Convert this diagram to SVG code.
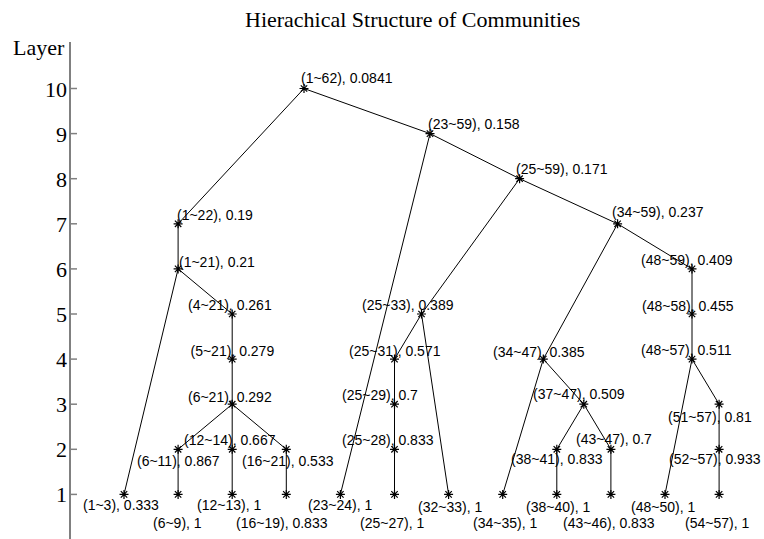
<svg xmlns="http://www.w3.org/2000/svg" xmlns:xlink="http://www.w3.org/1999/xlink" width="764" height="539" viewBox="0 0 764 539">
<style>
.lbl{font-family:"Liberation Sans",Arial,sans-serif;font-size:14px;fill:#000}
.ser{font-family:"Liberation Serif","Times New Roman",serif;font-size:22px;fill:#000}
.edge{stroke:#000;stroke-width:1;fill:none}
.tick{stroke:#808080;stroke-width:1.5}
</style>
<defs>
<path id="star" d="M-4.5,0H4.5M0,-4.5V4.5M-3.2,-3.2L3.2,3.2M-3.2,3.2L3.2,-3.2" stroke="#000" stroke-width="1.2" fill="none"/>
</defs>
<rect width="764" height="539" fill="#fff"/>
<text class="ser" x="245" y="27">Hierachical Structure of Communities</text>
<g id="axis">
<line x1="70" y1="42" x2="70" y2="539" stroke="#808080" stroke-width="2"/>
<text class="ser" x="13" y="55">Layer</text>
<g class="tick">
<line x1="70" y1="88.5" x2="77" y2="88.5"/><line x1="70" y1="133.6" x2="77" y2="133.6"/><line x1="70" y1="178.7" x2="77" y2="178.7"/><line x1="70" y1="223.8" x2="77" y2="223.8"/><line x1="70" y1="268.9" x2="77" y2="268.9"/><line x1="70" y1="314" x2="77" y2="314"/><line x1="70" y1="359.1" x2="77" y2="359.1"/><line x1="70" y1="404.2" x2="77" y2="404.2"/><line x1="70" y1="449.3" x2="77" y2="449.3"/><line x1="70" y1="494.4" x2="77" y2="494.4"/>
</g>
<g class="ser" text-anchor="end">
<text x="67" y="96.5">10</text><text x="67" y="141.6">9</text><text x="67" y="186.7">8</text><text x="67" y="231.8">7</text><text x="67" y="276.9">6</text><text x="67" y="322">5</text><text x="67" y="367.1">4</text><text x="67" y="412.2">3</text><text x="67" y="457.3">2</text><text x="67" y="502.4">1</text>
</g>
</g>
<g id="connectors" class="edge">
<line x1="304" y1="88.5" x2="178.1" y2="223.8"/>
<line x1="304" y1="88.5" x2="430" y2="133.6"/>
<line x1="178.1" y1="223.8" x2="178.1" y2="268.9"/>
<line x1="178.1" y1="268.9" x2="124" y2="494.4"/>
<line x1="178.1" y1="268.9" x2="232.2" y2="314"/>
<line x1="232.2" y1="314" x2="232.2" y2="404.2"/>
<line x1="232.2" y1="404.2" x2="178.1" y2="449.3"/>
<line x1="232.2" y1="404.2" x2="232.2" y2="494.4"/>
<line x1="232.2" y1="404.2" x2="286.3" y2="449.3"/>
<line x1="178.1" y1="449.3" x2="178.1" y2="494.4"/>
<line x1="286.3" y1="449.3" x2="286.3" y2="494.4"/>
<line x1="430" y1="133.6" x2="340.4" y2="494.4"/>
<line x1="430" y1="133.6" x2="519.6" y2="178.7"/>
<line x1="519.6" y1="178.7" x2="421.5" y2="314"/>
<line x1="519.6" y1="178.7" x2="617.6" y2="223.8"/>
<line x1="421.5" y1="314" x2="394.5" y2="359.1"/>
<line x1="421.5" y1="314" x2="448.6" y2="494.4"/>
<line x1="394.5" y1="359.1" x2="394.5" y2="494.4"/>
<line x1="617.6" y1="223.8" x2="543.3" y2="359.1"/>
<line x1="617.6" y1="223.8" x2="692" y2="268.9"/>
<line x1="543.3" y1="359.1" x2="502.7" y2="494.4"/>
<line x1="543.3" y1="359.1" x2="583.8" y2="404.2"/>
<line x1="583.8" y1="404.2" x2="556.8" y2="449.3"/>
<line x1="583.8" y1="404.2" x2="610.9" y2="449.3"/>
<line x1="556.8" y1="449.3" x2="556.8" y2="494.4"/>
<line x1="610.9" y1="449.3" x2="610.9" y2="494.4"/>
<line x1="692" y1="268.9" x2="692" y2="359.1"/>
<line x1="692" y1="359.1" x2="665" y2="494.4"/>
<line x1="692" y1="359.1" x2="719.1" y2="404.2"/>
<line x1="719.1" y1="404.2" x2="719.1" y2="494.4"/>
</g>
<g id="n1-62"><use href="#star" x="304" y="88.5"/><text class="lbl" x="301" y="83">(1~62), 0.0841</text></g>
<g id="n23-59"><use href="#star" x="430" y="133.6"/><text class="lbl" x="428" y="129">(23~59), 0.158</text></g>
<g id="n25-59"><use href="#star" x="519.6" y="178.7"/><text class="lbl" x="516" y="173.5">(25~59), 0.171</text></g>
<g id="n34-59"><use href="#star" x="617.6" y="223.8"/><text class="lbl" x="612" y="217">(34~59), 0.237</text></g>
<g id="n1-22"><use href="#star" x="178.1" y="223.8"/><text class="lbl" x="177" y="220">(1~22), 0.19</text></g>
<g id="n1-21"><use href="#star" x="178.1" y="268.9"/><text class="lbl" x="179" y="266.5">(1~21), 0.21</text></g>
<g id="n48-59"><use href="#star" x="692" y="268.9"/><text class="lbl" x="641" y="265">(48~59), 0.409</text></g>
<g id="n4-21"><use href="#star" x="232.2" y="314"/><text class="lbl" x="188" y="310">(4~21), 0.261</text></g>
<g id="n25-33"><use href="#star" x="421.5" y="314"/><text class="lbl" x="362" y="310">(25~33), 0.389</text></g>
<g id="n48-58"><use href="#star" x="692" y="314"/><text class="lbl" x="642" y="311">(48~58), 0.455</text></g>
<g id="n5-21"><use href="#star" x="232.2" y="359.1"/><text class="lbl" x="190.5" y="356">(5~21), 0.279</text></g>
<g id="n25-31"><use href="#star" x="394.5" y="359.1"/><text class="lbl" x="349" y="356">(25~31), 0.571</text></g>
<g id="n34-47"><use href="#star" x="543.3" y="359.1"/><text class="lbl" x="493" y="356.5">(34~47), 0.385</text></g>
<g id="n48-57"><use href="#star" x="692" y="359.1"/><text class="lbl" x="641" y="354.5">(48~57), 0.511</text></g>
<g id="n6-21"><use href="#star" x="232.2" y="404.2"/><text class="lbl" x="188" y="401.5">(6~21), 0.292</text></g>
<g id="n25-29"><use href="#star" x="394.5" y="404.2"/><text class="lbl" x="342" y="400">(25~29), 0.7</text></g>
<g id="n37-47"><use href="#star" x="583.8" y="404.2"/><text class="lbl" x="533" y="399">(37~47), 0.509</text></g>
<g id="n51-57"><use href="#star" x="719.1" y="404.2"/><text class="lbl" x="668" y="421.5">(51~57), 0.81</text></g>
<g id="n12-14"><use href="#star" x="232.2" y="449.3"/><text class="lbl" x="184" y="445">(12~14), 0.667</text></g>
<g id="n25-28"><use href="#star" x="394.5" y="449.3"/><text class="lbl" x="342" y="444.5">(25~28), 0.833</text></g>
<g id="n43-47"><use href="#star" x="610.9" y="449.3"/><text class="lbl" x="576" y="443.5">(43~47), 0.7</text></g>
<g id="n6-11"><use href="#star" x="178.1" y="449.3"/><text class="lbl" x="137" y="466">(6~11), 0.867</text></g>
<g id="n16-21"><use href="#star" x="286.3" y="449.3"/><text class="lbl" x="242" y="466">(16~21), 0.533</text></g>
<g id="n38-41"><use href="#star" x="556.8" y="449.3"/><text class="lbl" x="511" y="463.5">(38~41), 0.833</text></g>
<g id="n52-57"><use href="#star" x="719.1" y="449.3"/><text class="lbl" x="669" y="463.5">(52~57), 0.933</text></g>
<g id="n1-3"><use href="#star" x="124" y="494.4"/><text class="lbl" x="83" y="510">(1~3), 0.333</text></g>
<g id="n12-13"><use href="#star" x="232.2" y="494.4"/><text class="lbl" x="197" y="510">(12~13), 1</text></g>
<g id="n23-24"><use href="#star" x="340.4" y="494.4"/><text class="lbl" x="308" y="510">(23~24), 1</text></g>
<g id="n32-33"><use href="#star" x="448.6" y="494.4"/><text class="lbl" x="418" y="511.5">(32~33), 1</text></g>
<g id="n38-40"><use href="#star" x="556.8" y="494.4"/><text class="lbl" x="526" y="511.5">(38~40), 1</text></g>
<g id="n48-50"><use href="#star" x="665" y="494.4"/><text class="lbl" x="631" y="511.5">(48~50), 1</text></g>
<g id="n6-9"><use href="#star" x="178.1" y="494.4"/><text class="lbl" x="153" y="528">(6~9), 1</text></g>
<g id="n16-19"><use href="#star" x="286.3" y="494.4"/><text class="lbl" x="236" y="528">(16~19), 0.833</text></g>
<g id="n25-27"><use href="#star" x="394.5" y="494.4"/><text class="lbl" x="360" y="528">(25~27), 1</text></g>
<g id="n34-35"><use href="#star" x="502.7" y="494.4"/><text class="lbl" x="473" y="527.5">(34~35), 1</text></g>
<g id="n43-46"><use href="#star" x="610.9" y="494.4"/><text class="lbl" x="563" y="527.5">(43~46), 0.833</text></g>
<g id="n54-57"><use href="#star" x="719.1" y="494.4"/><text class="lbl" x="685" y="527.5">(54~57), 1</text></g>
</svg>
